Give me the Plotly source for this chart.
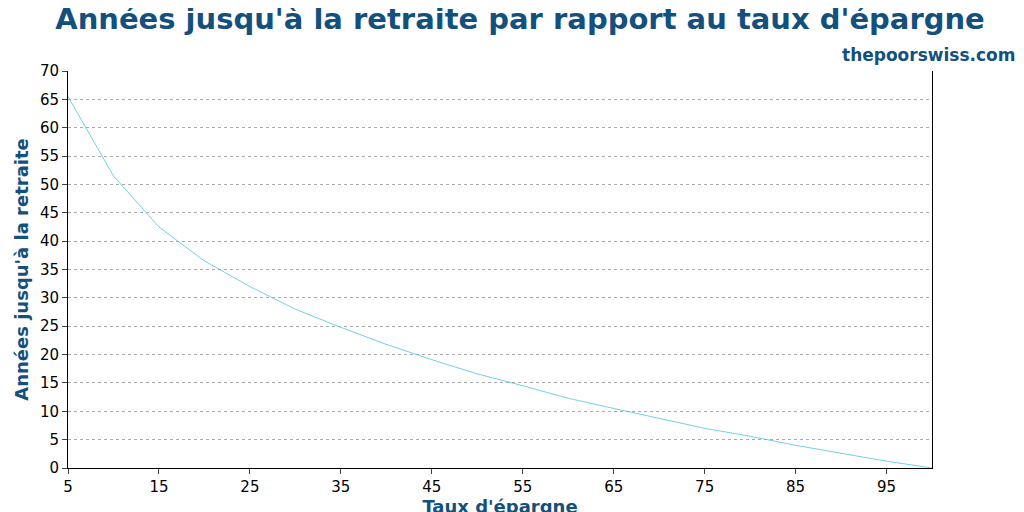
import plotly.graph_objects as go

taux = [5, 10, 15, 20, 25, 30, 35, 40, 45, 50, 55, 60, 65, 70, 75, 80, 85, 90, 95, 100]
annees = [65.5, 51.5, 42.5, 36.5, 32, 28, 24.8, 21.8, 19.1, 16.6, 14.5, 12.3, 10.5, 8.7, 7.0, 5.6, 4.0, 2.6, 1.2, 0]

fig = go.Figure(go.Scatter(x=taux, y=annees, mode='lines',
                           line=dict(color='#4fc3e8', width=0.8)))

bleu = '#14507e'
fig.update_layout(
    width=1024, height=512, plot_bgcolor='white', paper_bgcolor='white',
    margin=dict(l=60, r=100, t=63, b=52, autoexpand=False),
    font=dict(family='DejaVu Sans', size=15, color='black'),
    title=dict(text="<b>Années jusqu'à la retraite par rapport au taux d'épargne</b>",
               x=0.5, xanchor='center', y=0.998, yanchor='top',
               font=dict(size=29, color=bleu)),
    showlegend=False,
    annotations=[dict(text='<b>thepoorswiss.com</b>', xref='paper', yref='paper',
                      x=1.1, y=1.01, xanchor='right', yanchor='bottom', showarrow=False,
                      font=dict(size=17, color=bleu))],
)
fig.update_xaxes(range=[5, 100], tickvals=list(range(5, 100, 10)), ticks='outside',
                 ticklen=5, showline=True, linecolor='black', mirror=False, showgrid=False,
                 title=dict(text="<b>Taux d'épargne</b>", font=dict(size=18, color=bleu), standoff=2))
fig.update_yaxes(range=[0, 70], dtick=5, ticks='outside', ticklen=5, showline=True,
                 linecolor='black', mirror=True, gridcolor='#aaaaaa', griddash='dot',
                 gridwidth=0.8, zeroline=False,
                 title=dict(text="<b>Années jusqu'à la retraite</b>", font=dict(size=18, color=bleu), standoff=6))

fig.write_html('out.html')
